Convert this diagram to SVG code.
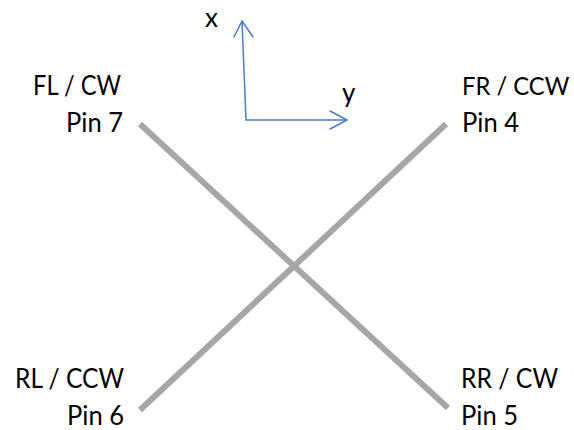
<svg xmlns="http://www.w3.org/2000/svg" width="574" height="430" viewBox="0 0 574 430">
  <style>
    .lbl { font-family: Lato, "Open Sans", "Liberation Sans", sans-serif; font-size: 26px; fill: #000; }
    .end { text-anchor: end; }
    .arm { stroke: #a6a6a6; stroke-width: 6; fill: none; }
    .axis { stroke: #4a7ebb; stroke-width: 1.5; fill: none; stroke-linecap: round; stroke-linejoin: round; }
  </style>
  <rect width="574" height="430" fill="#fff"/>

  <!-- frame arms -->
  <g id="connectors">
    <line class="arm" x1="140" y1="124" x2="448" y2="408"/>
    <line class="arm" x1="446" y1="124" x2="140" y2="410"/>
  </g>

  <!-- body axes -->
  <g id="axes">
    <polyline class="axis" points="242,21 246,120 347,120"/>
    <polyline class="axis" points="234,37 242,21 253,37"/>
    <polyline class="axis" points="330,111 347,120 330,129"/>
    <text class="lbl" x="205" y="27">x</text>
    <text class="lbl" x="342" y="102">y</text>
  </g>

  <!-- motor labels, condensed to the narrow label widths -->
  <g id="motor-fl">
    <text class="lbl end" x="121" y="95" textLength="88" lengthAdjust="spacingAndGlyphs">FL / CW</text>
    <text class="lbl end" x="123" y="132" textLength="57" lengthAdjust="spacingAndGlyphs">Pin 7</text>
  </g>
  <g id="motor-fr">
    <text class="lbl" transform="translate(462,95) scale(0.915,1)" x="0" y="0">FR / CCW</text>
    <text class="lbl" x="462" y="132" textLength="57" lengthAdjust="spacingAndGlyphs">Pin 4</text>
  </g>
  <g id="motor-rl">
    <text class="lbl end" x="124" y="388" textLength="109" lengthAdjust="spacingAndGlyphs">RL / CCW</text>
    <text class="lbl end" x="124" y="425" textLength="57" lengthAdjust="spacingAndGlyphs">Pin 6</text>
  </g>
  <g id="motor-rr">
    <text class="lbl" x="461" y="388" textLength="97" lengthAdjust="spacingAndGlyphs">RR / CW</text>
    <text class="lbl" x="461" y="425" textLength="57" lengthAdjust="spacingAndGlyphs">Pin 5</text>
  </g>
</svg>
